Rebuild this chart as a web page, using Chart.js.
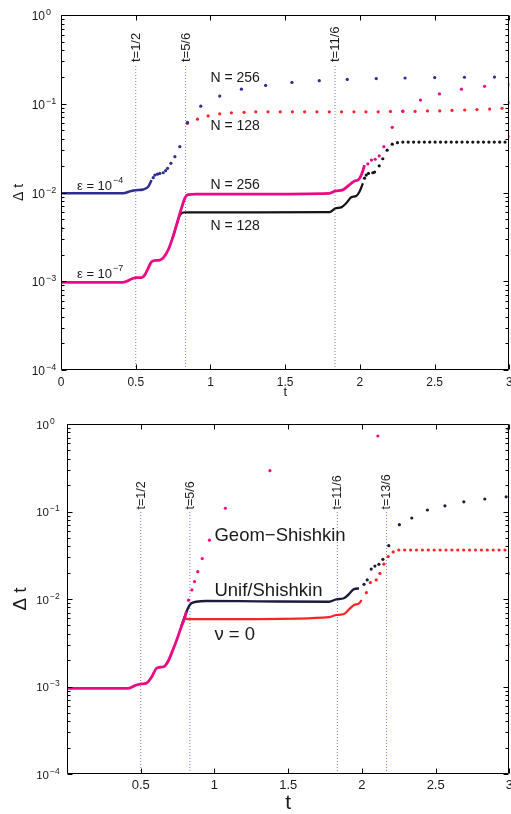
<!DOCTYPE html>
<html>
<head>
<meta charset="utf-8">
<title>Delta t versus t</title>
<script src="https://cdn.jsdelivr.net/npm/chart.js@4.4.1/dist/chart.umd.min.js"></script>
<style>
  body { margin: 0; background: #fff; }
  canvas { display: block; }
</style>
</head>
<body>
<canvas id="topChart" width="511" height="400"></canvas>
<canvas id="bottomChart" width="511" height="414"></canvas>
<script>
// axis ticks
const xTicksTop = [0, 0.5, 1, 1.5, 2, 2.5, 3];
const xTicksBottom = [0.5, 1, 1.5, 2, 2.5, 3];
const yDecades = [-4, -3, -2, -1, 0];

// marked times (dotted verticals)
const marksTop = [1/2, 5/6, 11/6];
const markNamesTop = ['t=1/2', 't=5/6', 't=11/6'];
const marksBottom = [1/2, 5/6, 11/6, 13/6];
const markNamesBottom = ['t=1/2', 't=5/6', 't=11/6', 't=13/6'];

// ---- top panel ----
// eps = 1e-4, dense start (N=128 and N=256 on top of each other)
const eps4LineT = [0.003, 0.2, 0.414, 0.47, 0.5, 0.55, 0.583, 0.606];
const eps4LineV = [0.0098, 0.0098, 0.0098, 0.0104, 0.0106, 0.0108, 0.0116, 0.0138];
// eps = 1e-4, N = 256 steps
const eps4N256T = [0, 0.617, 0.628, 0.645, 0.661, 0.684, 0.7, 0.713, 0.735, 0.762, 0.795, 0.846, 0.935, 1.062, 1.207, 1.369, 1.545, 1.728, 1.915, 2.109, 2.302, 2.5, 2.699, 2.9, 3.0];
const eps4N256V = [0.0040, 0.0147, 0.0157, 0.0161, 0.0164, 0.0167, 0.0176, 0.0187, 0.0213, 0.0253, 0.0328, 0.0618, 0.094, 0.122, 0.146, 0.161, 0.174, 0.182, 0.188, 0.192, 0.195, 0.197, 0.199, 0.200, 0.103];
// eps = 1e-4, N = 128 steps
const eps4N128T = [0, 0.846, 0.913, 0.984, 1.062, 1.14, 1.225, 1.303, 1.385, 1.467, 1.548, 1.63, 1.712, 1.795, 1.877, 1.96, 2.04, 2.122, 2.204, 2.287, 2.369, 2.452, 2.534, 2.616, 2.701, 2.783, 2.868, 2.951];
const eps4N128V = [0.0037, 0.060, 0.067, 0.073, 0.077, 0.079, 0.080, 0.081, 0.081, 0.081, 0.081, 0.081, 0.081, 0.081, 0.081, 0.081, 0.081, 0.081, 0.082, 0.082, 0.082, 0.083, 0.083, 0.084, 0.085, 0.086, 0.087, 0.089];
// eps = 1e-7, N = 256
const eps7N256LineT = [0, 0.2, 0.414, 0.472, 0.5, 0.539, 0.561, 0.583, 0.606, 0.639, 0.661, 0.687, 0.717, 0.746, 0.773, 0.795, 0.813, 0.828, 0.85, 0.906, 1.3, 1.797, 1.837, 1.886, 1.919, 1.942, 1.964, 1.986, 2.004, 2.02, 2.031];
const eps7N256LineV = [0.00097, 0.00097, 0.00097, 0.00106, 0.0011, 0.0011, 0.00118, 0.0014, 0.00166, 0.00172, 0.00173, 0.00186, 0.00225, 0.00304, 0.0043, 0.00582, 0.00723, 0.0086, 0.00944, 0.0096, 0.0096, 0.0098, 0.0104, 0.0107, 0.0118, 0.0127, 0.0135, 0.0138, 0.0151, 0.0176, 0.0204];
const eps7N256DotT = [2.053, 2.077, 2.102, 2.129, 2.16, 2.216, 2.287, 2.405, 2.532, 2.679, 2.834, 3.0, 3.0];
const eps7N256DotV = [0.021, 0.0232, 0.0237, 0.0258, 0.0328, 0.0543, 0.0828, 0.110, 0.129, 0.146, 0.157, 0.164, 0.0425];
// eps = 1e-7, N = 128
const eps7N128LineT = [0.746, 0.773, 0.795, 0.817, 0.85, 1.3, 1.797, 1.837, 1.875, 1.908, 1.942, 1.975, 1.997, 2.02];
const eps7N128LineV = [0.00304, 0.0043, 0.0055, 0.00595, 0.00598, 0.00598, 0.0060, 0.00664, 0.0068, 0.00755, 0.00883, 0.00914, 0.0102, 0.0127];
const eps7N128DotT = [2.031, 2.042, 2.057, 2.086, 2.098, 2.129, 2.153, 2.182, 2.216, 2.251, 2.287, 2.323, 2.359, 2.395, 2.431, 2.467, 2.503, 2.539, 2.575, 2.611, 2.647, 2.683, 2.719, 2.755, 2.791, 2.827, 2.863, 2.899, 2.935, 2.971];
const eps7N128DotV = [0.0145, 0.0157, 0.0164, 0.0167, 0.0170, 0.020, 0.024, 0.030, 0.035, 0.0364, 0.037, 0.037, 0.037, 0.037, 0.037, 0.037, 0.037, 0.037, 0.037, 0.037, 0.037, 0.037, 0.037, 0.037, 0.037, 0.037, 0.037, 0.037, 0.037, 0.037];

// ---- bottom panel ----
// Geom-Shishkin
const geomLineT = [0, 0.2, 0.414, 0.471, 0.505, 0.538, 0.572, 0.606, 0.628, 0.655, 0.684, 0.718, 0.752, 0.775, 0.797, 0.81];
const geomLineV = [0.00095, 0.00095, 0.00095, 0.00104, 0.00107, 0.00109, 0.00127, 0.00161, 0.00166, 0.00168, 0.00192, 0.00261, 0.0037, 0.00483, 0.0060, 0.0072];
const geomDotT = [0.824, 0.847, 0.865, 0.887, 0.917, 0.966, 1.074, 1.376, 2.108, 2.99];
const geomDotV = [0.0097, 0.0127, 0.0158, 0.0205, 0.029, 0.047, 0.109, 0.293, 0.729, 0.877];
// Unif/Shishkin
const unifLineT = [0.775, 0.797, 0.82, 0.842, 0.876, 0.944, 1.3, 1.777, 1.826, 1.878, 1.912, 1.946, 1.98];
const unifLineV = [0.00483, 0.0062, 0.00783, 0.0089, 0.0093, 0.0095, 0.0094, 0.0093, 0.0099, 0.0102, 0.0114, 0.013, 0.0132];
const unifDotT = [2.014, 2.036, 2.063, 2.088, 2.115, 2.142, 2.182, 2.254, 2.338, 2.444, 2.563, 2.691, 2.833, 2.978, 3.0];
const unifDotV = [0.0147, 0.0165, 0.022, 0.0238, 0.0249, 0.0284, 0.0407, 0.0707, 0.0843, 0.104, 0.116, 0.129, 0.139, 0.147, 0.0196];
// nu = 0
const nu0LineT = [0.797, 0.82, 1.3, 1.777, 1.826, 1.878, 1.912, 1.946, 1.98, 1.998];
const nu0LineV = [0.0060, 0.0059, 0.0059, 0.0062, 0.00656, 0.00674, 0.0076, 0.00854, 0.0089, 0.0097];
const nu0DotT = [2.03, 2.057, 2.097, 2.122, 2.149, 2.178, 2.212, 2.25, 2.29, 2.33, 2.37, 2.41, 2.45, 2.49, 2.53, 2.57, 2.61, 2.65, 2.69, 2.73, 2.77, 2.81, 2.85, 2.89, 2.93, 2.97, 3.0];
const nu0DotV = [0.0118, 0.0154, 0.0165, 0.0196, 0.025, 0.0305, 0.0345, 0.0363, 0.0363, 0.0363, 0.0363, 0.0363, 0.0363, 0.0363, 0.0363, 0.0363, 0.0363, 0.0363, 0.0363, 0.0363, 0.0363, 0.0363, 0.0363, 0.0363, 0.0363, 0.0363, 0.003];

const FONT = '"Liberation Sans", Arial, sans-serif';
const BLUE = '#2e2e8e', RED = '#ff2424', PINK = '#ea0a86', BLACK = '#141414', NAVY = '#1b1b3e', MARK = '#7d7dd6';

function pts(ts, vs) {
  return ts.map((t, i) => ({ x: t, y: vs[i] }));
}

function curve(ts, vs, color, width) {
  return {
    data: pts(ts, vs), showLine: true, borderColor: color, borderWidth: width,
    pointRadius: 0, cubicInterpolationMode: 'monotone', fill: false
  };
}

function dots(ts, vs, color) {
  return {
    data: pts(ts, vs), showLine: false, pointRadius: 1.6, pointBorderWidth: 0,
    pointBackgroundColor: color, pointHoverRadius: 0
  };
}

function vline(t, top) {
  return {
    data: [{ x: t, y: 1e-4 }, { x: t, y: top }], showLine: true, borderColor: MARK,
    borderWidth: 1, borderDash: [1, 2], pointRadius: 0
  };
}

// axes box, inside ticks, labels and notes in MATLAB style
function framePlugin(spec) {
  return {
    id: 'frame',
    afterDatasetsDraw(chart) {
      const ctx = chart.ctx, a = chart.chartArea;
      const xs = chart.scales.x, ys = chart.scales.y;
      const L = Math.round(a.left) + 0.5, R = Math.round(a.right) - 0.5;
      const T = Math.round(a.top) + 0.5, B = Math.round(a.bottom) - 0.5;
      ctx.save();

      ctx.strokeStyle = '#000';
      ctx.lineWidth = 1;
      ctx.beginPath();
      spec.xTicks.forEach(v => {
        const px = Math.round(xs.getPixelForValue(v)) + 0.5;
        ctx.moveTo(px, B); ctx.lineTo(px, B - 5);
        ctx.moveTo(px, T); ctx.lineTo(px, T + 5);
      });
      yDecades.forEach(d => {
        for (let m = 1; m <= 9; m++) {
          if (d === 0 && m > 1) break;
          const py = Math.round(ys.getPixelForValue(m * Math.pow(10, d))) + 0.5;
          const len = m === 1 ? 5 : 3;
          ctx.moveTo(L, py); ctx.lineTo(L + len, py);
          ctx.moveTo(R, py); ctx.lineTo(R - len, py);
        }
      });
      ctx.rect(L, T, R - L, B - T);
      ctx.stroke();

      ctx.fillStyle = '#1a1a1a';
      ctx.textBaseline = 'alphabetic';

      // x tick labels
      ctx.font = spec.xTickFont;
      ctx.textAlign = 'center';
      spec.xTicks.forEach(v => ctx.fillText(String(v), xs.getPixelForValue(v), B + spec.xTickDrop));

      // y tick labels 10^d
      yDecades.forEach(d => {
        const py = ys.getPixelForValue(Math.pow(10, d));
        ctx.font = spec.yBaseFont;
        ctx.textAlign = 'right';
        ctx.fillText('10', spec.yLabelRight, py + spec.yBaseDrop);
        ctx.font = spec.yExpFont;
        ctx.textAlign = 'left';
        ctx.fillText(d === 0 ? '0' : '\u2212' + (-d), spec.yLabelRight + 1, py + spec.yExpDrop);
      });

      // axis titles
      ctx.font = spec.xTitleFont;
      ctx.textAlign = 'center';
      ctx.fillText('t', (a.left + a.right) / 2, B + spec.xTitleDrop);
      ctx.save();
      ctx.translate(spec.yTitleX, (a.top + a.bottom) / 2);
      ctx.rotate(-Math.PI / 2);
      ctx.font = spec.yTitleFont;
      ctx.textBaseline = 'middle';
      ctx.fillText('\u0394 t', 0, 0);
      ctx.restore();

      // names of the marked times
      spec.marks.forEach((t, i) => {
        ctx.save();
        ctx.translate(xs.getPixelForValue(t) + 0.5, ys.getPixelForValue(spec.markTop) - 2);
        ctx.rotate(-Math.PI / 2);
        ctx.font = spec.markFont;
        ctx.textAlign = 'left';
        ctx.textBaseline = 'middle';
        ctx.fillText(spec.markNames[i], 0, 0);
        ctx.restore();
      });

      // curve notes
      spec.notes.forEach(n => {
        const px = xs.getPixelForValue(n.t), py = ys.getPixelForValue(n.v);
        ctx.font = n.font;
        ctx.textAlign = 'left';
        ctx.fillText(n.text, px, py);
        if (n.exp) {
          const w = ctx.measureText(n.text).width;
          ctx.font = n.expFont;
          ctx.fillText(n.exp, px + w + 1, py - n.rise);
        }
      });
      ctx.restore();
    }
  };
}

function makeChart(id, datasets, spec) {
  return new Chart(document.getElementById(id), {
    type: 'scatter',
    data: { datasets: datasets },
    options: {
      responsive: false,
      animation: false,
      events: [],
      layout: { padding: spec.pad },
      plugins: { legend: { display: false }, tooltip: { enabled: false } },
      scales: {
        x: { type: 'linear', display: false, min: 0, max: 3 },
        y: { type: 'logarithmic', display: false, min: 1e-4, max: 1 }
      }
    },
    plugins: [framePlugin(spec)]
  });
}

// top chart
const topSets = [
  dots(eps4N256T, eps4N256V, BLUE),
  curve(eps4LineT, eps4LineV, BLUE, 2.5),
  dots(eps7N256DotT, eps7N256DotV, PINK),
  curve(eps7N256LineT, eps7N256LineV, PINK, 2.8),
  dots(eps4N128T, eps4N128V, RED),
  dots(eps7N128DotT, eps7N128DotV, BLACK),
  curve(eps7N128LineT, eps7N128LineV, BLACK, 2.2)
].concat(marksTop.map(t => vline(t, 0.28)));

makeChart('topChart', topSets, {
  pad: { left: 61, right: 1, top: 15, bottom: 30 },
  xTicks: xTicksTop,
  xTickFont: '12px ' + FONT, xTickDrop: 16.5,
  yBaseFont: '12px ' + FONT, yExpFont: '9px ' + FONT,
  yLabelRight: 45, yBaseDrop: 5, yExpDrop: 0,
  xTitleFont: '13px ' + FONT, xTitleDrop: 26,
  yTitleFont: '14px ' + FONT, yTitleX: 19,
  marks: marksTop, markNames: markNamesTop, markTop: 0.28, markFont: '13px ' + FONT,
  notes: [
    { text: 'N = 256', t: 1.0, v: 0.176, font: '14px ' + FONT },
    { text: 'N = 128', t: 1.0, v: 0.0506, font: '14px ' + FONT },
    { text: 'N = 256', t: 1.0, v: 0.0109, font: '14px ' + FONT },
    { text: 'N = 128', t: 1.0, v: 0.00378, font: '14px ' + FONT },
    { text: '\u03b5 = 10', exp: '\u22124', t: 0.107, v: 0.01067, font: '13px ' + FONT, expFont: '9px ' + FONT, rise: 7 },
    { text: '\u03b5 = 10', exp: '\u22127', t: 0.107, v: 0.00109, font: '13px ' + FONT, expFont: '9px ' + FONT, rise: 7 }
  ]
});

// bottom chart
const bottomSets = [
  dots(geomDotT, geomDotV, PINK),
  curve(geomLineT, geomLineV, PINK, 2.8),
  dots(unifDotT, unifDotV, NAVY),
  curve(unifLineT, unifLineV, NAVY, 2.4),
  dots(nu0DotT, nu0DotV, RED),
  curve(nu0LineT, nu0LineV, RED, 2.2)
].concat(marksBottom.map(t => vline(t, 0.1)));

makeChart('bottomChart', bottomSets, {
  pad: { left: 67, right: 1, top: 24, bottom: 40 },
  xTicks: xTicksBottom,
  xTickFont: '13px ' + FONT, xTickDrop: 15,
  yBaseFont: '11.5px ' + FONT, yExpFont: '8.5px ' + FONT,
  yLabelRight: 49, yBaseDrop: 4.5, yExpDrop: -0.5,
  xTitleFont: '21px ' + FONT, xTitleDrop: 35,
  yTitleFont: '19px ' + FONT, yTitleX: 21,
  marks: marksBottom, markNames: markNamesBottom, markTop: 0.1, markFont: '12.5px ' + FONT,
  notes: [
    { text: 'Geom\u2212Shishkin', t: 1.0, v: 0.046, font: '18.5px ' + FONT },
    { text: 'Unif/Shishkin', t: 1.0, v: 0.0108, font: '18.5px ' + FONT },
    { text: '\u03bd = 0', t: 1.0, v: 0.0034, font: '18.5px ' + FONT }
  ]
});
</script>
</body>
</html>
